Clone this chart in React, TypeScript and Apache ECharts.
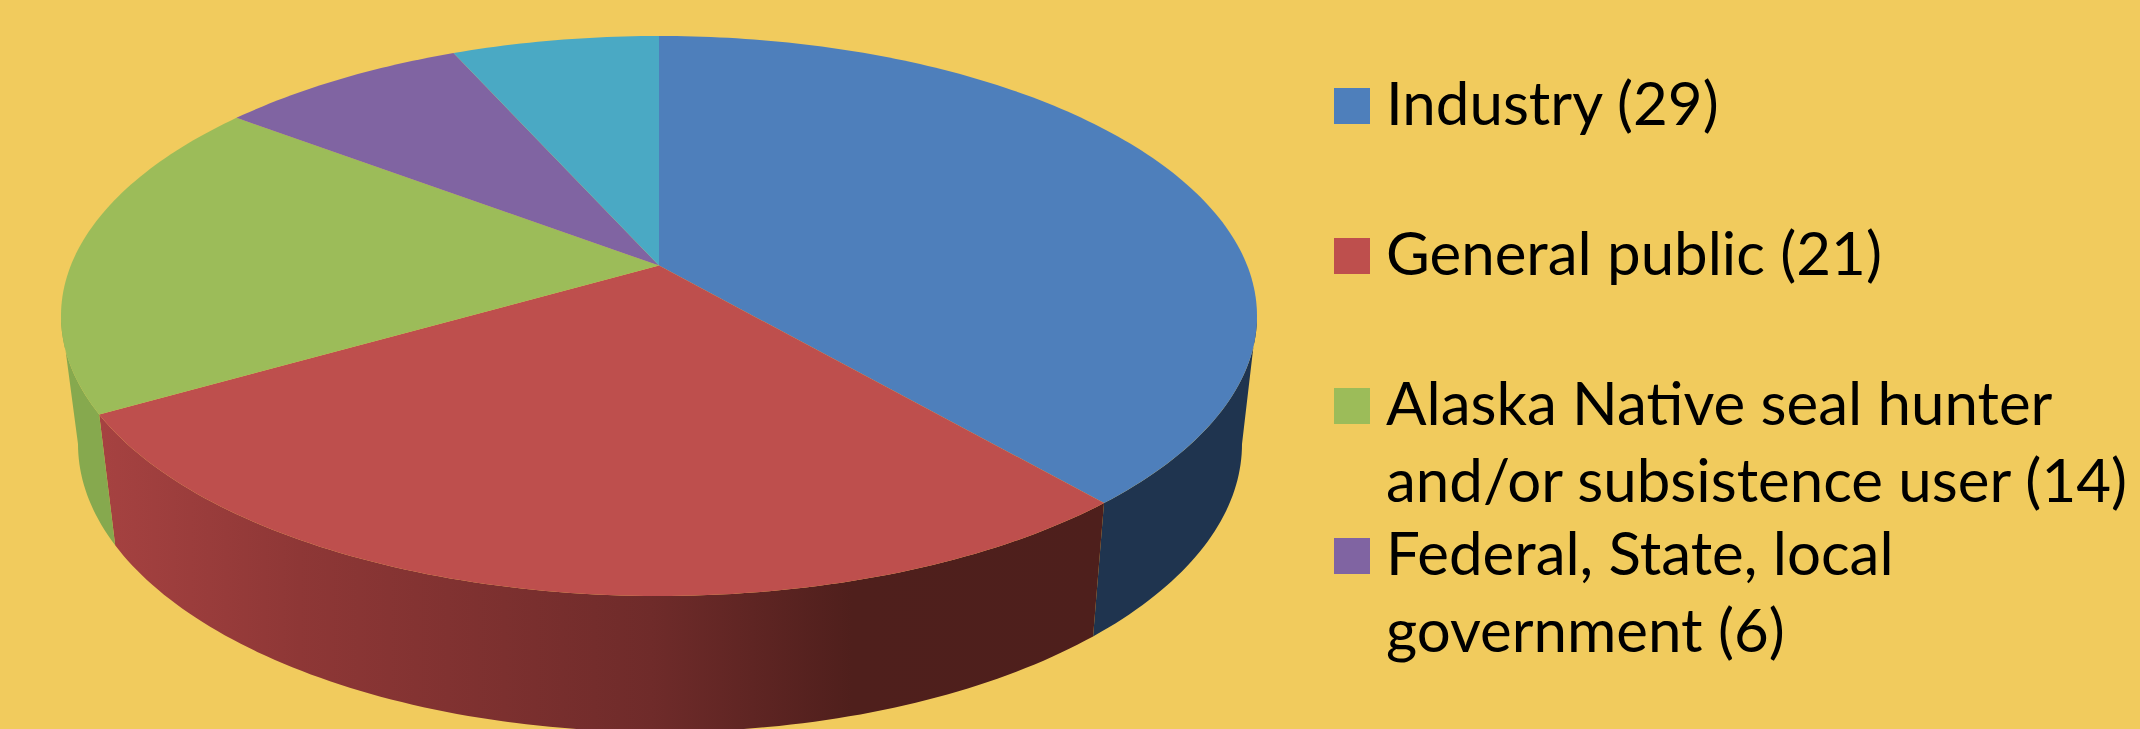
import React, { useEffect, useRef } from "react";
import * as echarts from "echarts";

// Stakeholder groups, in clockwise order from twelve o'clock
const sliceNames = [
  "Industry",
  "General public",
  "Alaska Native seal hunter and/or subsistence user",
  "Federal, State, local government",
  "Other",
];
const sliceValues = [29, 21, 14, 6, 5];

// Legend rows: each inner list is the lines of one entry
const legendLines = [
  ["Industry (29)"],
  ["General public (21)"],
  ["Alaska Native seal hunter", "and/or subsistence user (14)"],
  ["Federal, State, local", "government (6)"],
];

const WIDTH = 2140;
const HEIGHT = 729;
const BACKGROUND = "#F1CB5D";
const FONT = "Lato";

const topColors = ["#4E7FBB", "#BE4F4D", "#9CBC59", "#8064A2", "#4AA9C4"];
const wallColors: any[] = [
  "#1F344F",
  {
    type: "linear",
    x: 0,
    y: 0,
    x2: 1,
    y2: 0,
    colorStops: [
      { offset: 0, color: "#A64241" },
      { offset: 0.2, color: "#8E3736" },
      { offset: 0.55, color: "#6F2B2A" },
      { offset: 0.75, color: "#4F1F1C" },
      { offset: 1, color: "#4E1F1C" },
    ],
  },
  "#86A94E",
  "#5E4A78",
  "#357C8F",
];

// Perspective: far side of the disc is foreshortened relative to the near side
const PERSPECTIVE = 0.18;
const topRim = { cx: 659, cy: 316, rx: 598, ry: 280 };
const bottomRim = { cx: 660, cy: 444, rx: 582, ry: 288 };

// Angles of the ellipse's widest points: only the wall between them faces the viewer
const FRONT_START = Math.acos(-PERSPECTIVE);
const FRONT_END = Math.PI * 2 - FRONT_START;

type Rim = typeof topRim;

function project(rim: Rim, angle: number): number[] {
  const k = PERSPECTIVE;
  const s = Math.sin(angle);
  const c = Math.cos(angle);
  const d = 1 + k * c;
  const b = rim.rx * Math.sqrt(1 - k * k);
  const a = rim.ry * (1 - k * k);
  return [rim.cx + (b * s) / d, rim.cy - rim.ry * k - (a * c) / d];
}

const total = sliceValues.reduce((sum, v) => sum + v, 0);

function sliceAngles(index: number): [number, number] {
  const before = sliceValues.slice(0, index).reduce((sum, v) => sum + v, 0);
  const start = (before / total) * Math.PI * 2;
  return [start, start + (sliceValues[index] / total) * Math.PI * 2];
}

function arcPoints(rim: Rim, start: number, end: number): number[][] {
  const steps = Math.max(2, Math.ceil((end - start) / (Math.PI / 180)));
  const points: number[][] = [];
  for (let i = 0; i <= steps; i++) {
    points.push(project(rim, start + ((end - start) * i) / steps));
  }
  return points;
}

const renderWall = (params: any) => {
  const i = params.dataIndex;
  const [sliceStart, sliceEnd] = sliceAngles(i);
  const start = Math.max(sliceStart, FRONT_START);
  const end = Math.min(sliceEnd, FRONT_END);
  if (end <= start) return null;
  const upper = arcPoints(topRim, start, end);
  const lower = arcPoints(bottomRim, start, end).reverse();
  return {
    type: "polygon",
    shape: { points: upper.concat(lower) },
    style: { fill: wallColors[i] },
  };
};

const renderTop = (params: any) => {
  const [start, end] = sliceAngles(params.dataIndex);
  // The disc's centre maps to this off-centre point of the ellipse
  const centre = [topRim.cx, topRim.cy - topRim.ry * PERSPECTIVE];
  return {
    type: "polygon",
    shape: { points: [centre, ...arcPoints(topRim, start, end)] },
    style: { fill: topColors[params.dataIndex] },
  };
};

const LEGEND_SWATCH_X = 1334;
const LEGEND_SWATCH_SIZE = 36;
const LEGEND_TOP = 88;
const LEGEND_STEP = 150;
const LEGEND_TEXT_X = 1386;
const LEGEND_LINE_HEIGHT = 77;
const LEGEND_FONT_SIZE = 60;

function legendGraphics() {
  const items: any[] = [];
  legendLines.forEach((lines, i) => {
    const top = LEGEND_TOP + i * LEGEND_STEP;
    items.push({
      type: "rect",
      shape: { x: LEGEND_SWATCH_X, y: top, width: LEGEND_SWATCH_SIZE, height: LEGEND_SWATCH_SIZE },
      style: { fill: topColors[i] },
    });
    lines.forEach((line, j) => {
      items.push({
        type: "text",
        x: LEGEND_TEXT_X,
        y: top + LEGEND_SWATCH_SIZE / 2 - 4 + j * LEGEND_LINE_HEIGHT,
        style: {
          text: line,
          fill: "#000000",
          font: `${LEGEND_FONT_SIZE}px ${FONT}`,
          textAlign: "left",
          textVerticalAlign: "middle",
        },
      });
    });
  });
  return items;
}

export default function App() {
  const ref = useRef<HTMLDivElement>(null);

  useEffect(() => {
    document.body.style.margin = "0";
    const chart = echarts.init(ref.current!, undefined, { renderer: "svg" });
    const data = sliceValues.map((value, i) => ({ name: sliceNames[i], value }));
    chart.setOption({
      animation: false,
      backgroundColor: BACKGROUND,
      series: [
        { type: "custom", coordinateSystem: "none", silent: true, z: 1, data, renderItem: renderWall },
        { type: "custom", coordinateSystem: "none", silent: true, z: 2, data, renderItem: renderTop },
      ],
      graphic: { elements: legendGraphics() },
    });
    return () => chart.dispose();
  }, []);

  return <div ref={ref} style={{ width: WIDTH, height: HEIGHT }} />;
}
